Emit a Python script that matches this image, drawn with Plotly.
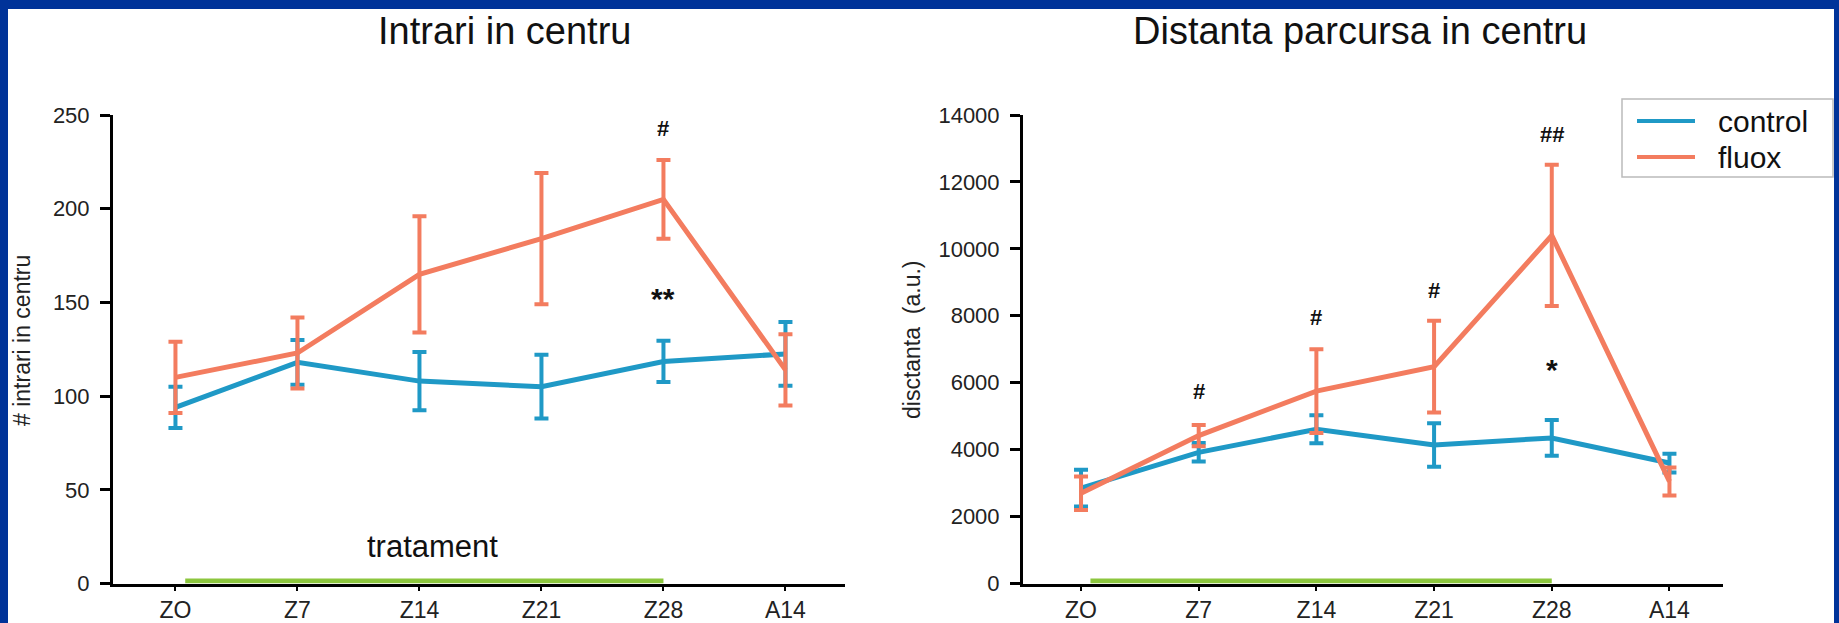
import plotly.graph_objects as go

# ---- data -------------------------------------------------------------
categories = ["ZO", "Z7", "Z14", "Z21", "Z28", "A14"]
series_names = ["control", "fluox"]

entries_control = [94, 118, 108, 105, 118.5, 122.5]
entries_control_err = [11, 12, 15.5, 17, 11, 17]
entries_fluox = [110, 123, 165, 184, 205, 114]
entries_fluox_err = [19, 19, 31, 35, 21, 19]

distance_control = [2850, 3920, 4610, 4140, 4350, 3600]
distance_control_err = [550, 275, 420, 650, 535, 280]
distance_fluox = [2700, 4420, 5750, 6480, 10400, 3050]
distance_fluox_err = [500, 320, 1250, 1370, 2110, 420]

# significance marks: (category, value, label)
entries_marks = [("Z28", 243, "#"), ("Z28", 152, "**")]
distance_marks = [("Z7", 5750, "#"), ("Z14", 7935, "#"), ("Z21", 8750, "#"),
                  ("Z28", 13415, "##"), ("Z28", 6400, "*")]

treatment_period = ("ZO", "Z28")

entries_ticks = [0, 50, 100, 150, 200, 250]
distance_ticks = [0, 2000, 4000, 6000, 8000, 10000, 12000, 14000]

# ---- style ------------------------------------------------------------
W, H = 1839, 623
BLUE = "#1F99C6"
ORANGE = "#F37C5F"
GREEN = "#8CC63E"
FRAME = "#003399"
FONT = "Liberation Sans, Arial, sans-serif"
colors = [BLUE, ORANGE]


def px_x(p):
    return p / W


def px_y(p):
    return 1 - p / H


fig = go.Figure()

panels = [
    ("x", "y", [entries_control, entries_fluox], [entries_control_err, entries_fluox_err]),
    ("x2", "y2", [distance_control, distance_fluox], [distance_control_err, distance_fluox_err]),
]
for xa, ya, values, errors in panels:
    for name, vals, errs, col in zip(series_names, values, errors, colors):
        fig.add_trace(go.Scatter(
            x=categories, y=vals, name=name, mode="lines",
            line=dict(color=col, width=5),
            error_y=dict(type="data", array=errs, visible=True,
                         color=col, thickness=4, width=7),
            xaxis=xa, yaxis=ya, showlegend=False,
        ))

axis_common = dict(
    showline=True, linecolor="black", linewidth=3, showgrid=False,
    zeroline=False, ticks="outside", tickcolor="black", automargin=False,
    tickfont=dict(family=FONT, size=22, color="#222222"),
)
y_dom = [px_y(583.5), px_y(115)]

fig.update_layout(
    width=W, height=H, autosize=False,
    margin=dict(l=0, r=0, t=0, b=0, pad=0, autoexpand=False),
    paper_bgcolor=FRAME, plot_bgcolor="white",
    font=dict(family=FONT, color="black"),
    xaxis=dict(axis_common, type="category", domain=[px_x(113), px_x(845)],
               range=[-0.512, 5.488], ticklen=4, tickwidth=2,
               tickfont=dict(family=FONT, size=23, color="#222222"),
               anchor="y"),
    yaxis=dict(axis_common, domain=y_dom, range=[0, 250], tickvals=entries_ticks,
               ticklen=10, tickwidth=2.5, anchor="x", ticklabelstandoff=6),
    xaxis2=dict(axis_common, type="category", domain=[px_x(1023), px_x(1723)],
                range=[-0.493, 5.455], ticklen=4, tickwidth=2,
                tickfont=dict(family=FONT, size=23, color="#222222"),
                anchor="y2"),
    yaxis2=dict(axis_common, domain=y_dom, range=[0, 14000], tickvals=distance_ticks,
                tickformat="d", ticklen=10, tickwidth=2.5, anchor="x2",
                ticklabelstandoff=6),
)

shapes = [
    # white panel inside the blue frame
    dict(type="rect", xref="paper", yref="paper", x0=px_x(8), x1=px_x(1834),
         y0=-0.05, y1=px_y(9), fillcolor="white", line=dict(width=0), layer="below"),
]
# treatment period bars along the x axes
for xa, ya in [("x", "y"), ("x2", "y2")]:
    shapes.append(dict(
        type="rect", xref=xa, yref=ya, x0=treatment_period[0], x0shift=0.08,
        x1=treatment_period[1], ysizemode="pixel", yanchor=0, y0=0, y1=5,
        fillcolor=GREEN, line=dict(width=0), layer="above"))

# legend box
shapes.append(dict(type="rect", xref="paper", yref="paper",
                   x0=px_x(1622), x1=px_x(1833), y0=px_y(177), y1=px_y(99),
                   fillcolor="white", line=dict(color="#BBBBBB", width=1.5)))
legend_rows = [121, 157]
for row, col in zip(legend_rows, colors):
    shapes.append(dict(type="line", xref="paper", yref="paper",
                       x0=px_x(1637), x1=px_x(1695), y0=px_y(row), y1=px_y(row),
                       line=dict(color=col, width=4)))

annotations = []
for row, name in zip(legend_rows, series_names):
    annotations.append(dict(xref="paper", yref="paper", x=px_x(1716), y=px_y(row),
                            text=name, showarrow=False, xanchor="left",
                            yanchor="middle", font=dict(size=30, color="#111")))

# panel titles
annotations += [
    dict(xref="paper", yref="paper", x=px_x(505), y=px_y(31),
         text="Intrari in centru", showarrow=False, xanchor="center",
         yanchor="middle", font=dict(size=38, color="#111")),
    dict(xref="paper", yref="paper", x=px_x(1360), y=px_y(31),
         text="Distanta parcursa in centru", showarrow=False, xanchor="center",
         yanchor="middle", font=dict(size=38, color="#111")),
    # y-axis titles
    dict(xref="paper", yref="paper", x=px_x(22), y=px_y(341),
         text="# intrari in centru", showarrow=False, textangle=-90,
         xanchor="center", yanchor="middle", font=dict(size=23, color="#222")),
    dict(xref="paper", yref="paper", x=px_x(912), y=px_y(340),
         text="disctanta  (a.u.)", showarrow=False, textangle=-90,
         xanchor="center", yanchor="middle", font=dict(size=23, color="#222")),
    # treatment label
    dict(xref="paper", yref="paper", x=px_x(432), y=px_y(546),
         text="tratament", showarrow=False, xanchor="center", yanchor="middle",
         font=dict(size=31, color="#111")),
]

for marks, xa, ya in [(entries_marks, "x", "y"), (distance_marks, "x2", "y2")]:
    for cat, val, label in marks:
        size = 30 if "*" in label else 22
        annotations.append(dict(xref=xa, yref=ya, x=cat, y=val,
                                text="<b>%s</b>" % label, showarrow=False,
                                xanchor="center", yanchor="middle",
                                font=dict(size=size, color="#111")))

fig.update_layout(shapes=shapes, annotations=annotations)
fig.write_html("out.html")
